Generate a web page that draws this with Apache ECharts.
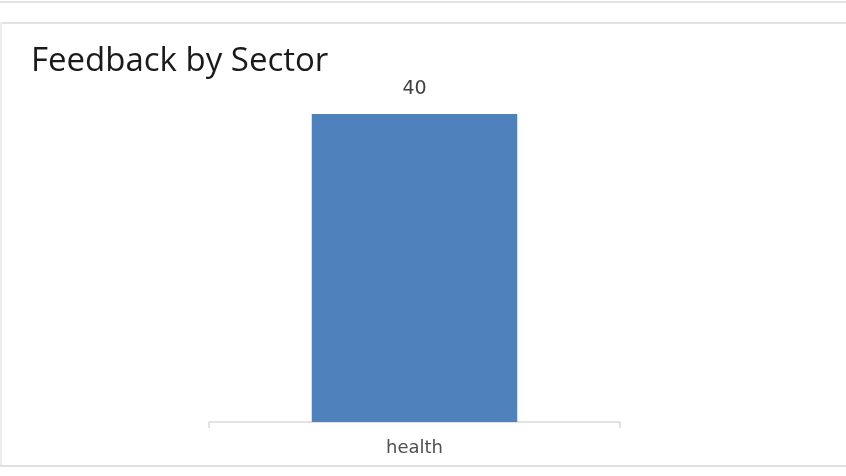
<!DOCTYPE html>
<html>
<head>
<meta charset="utf-8">
<script src="https://cdn.jsdelivr.net/npm/echarts@6/dist/echarts.min.js"></script>
<style>
  html, body { margin: 0; padding: 0; background: #fff; }
  #myChart { width: 846px; height: 476px; }
</style>
</head>
<body>
<div id="myChart"></div>
<script>
// chart data
var sectors = ["health"];
var feedbackCount = [40];

var chartInst = echarts.init(document.getElementById("myChart"));
chartInst.setOption({
  animation: false,
  title: {
    text: "Feedback by Sector",
    left: 26,
    top: 40,
    textStyle: {
      color: "#1a1a1a",
      fontSize: 33,
      fontWeight: "normal",
      fontFamily: "Open Sans",
    },
  },
  // panel borders of the screenshot
  graphic: [
    { type: "rect", shape: { x: 0, y: 1, width: 846, height: 2 }, style: { fill: "#e2e2e2" } },
    { type: "rect", shape: { x: 0, y: 22, width: 846, height: 2 }, style: { fill: "#e2e2e2" } },
    { type: "rect", shape: { x: 0, y: 22, width: 2, height: 445 }, style: { fill: "#ececec" } },
    { type: "rect", shape: { x: 0, y: 465, width: 846, height: 2 }, style: { fill: "#e0e0e0" } },
  ],
  grid: {
    top: 114,
    bottom: 54,
    left: 209,
    right: 226,
  },
  xAxis: {
    type: "category",
    data: sectors,
    axisLine: { lineStyle: { color: "#d9d9d9", width: 1.5 } },
    axisTick: { show: true, length: 6, lineStyle: { color: "#d9d9d9", width: 1.5 } },
    axisLabel: {
      color: "#505050",
      fontSize: 18,
      fontFamily: "DejaVu Sans",
      margin: 17,
    },
  },
  yAxis: {
    type: "value",
    min: 0,
    max: 40,
    show: false,
    splitLine: { show: false },
  },
  series: [
    {
      type: "bar",
      data: feedbackCount,
      barWidth: "50%",
      itemStyle: { color: "#4f81bd" },
      label: {
        show: true,
        position: "top",
        distance: 15,
        color: "#404040",
        fontSize: 19,
        fontFamily: "DejaVu Sans",
      },
    },
  ],
});
</script>
</body>
</html>
